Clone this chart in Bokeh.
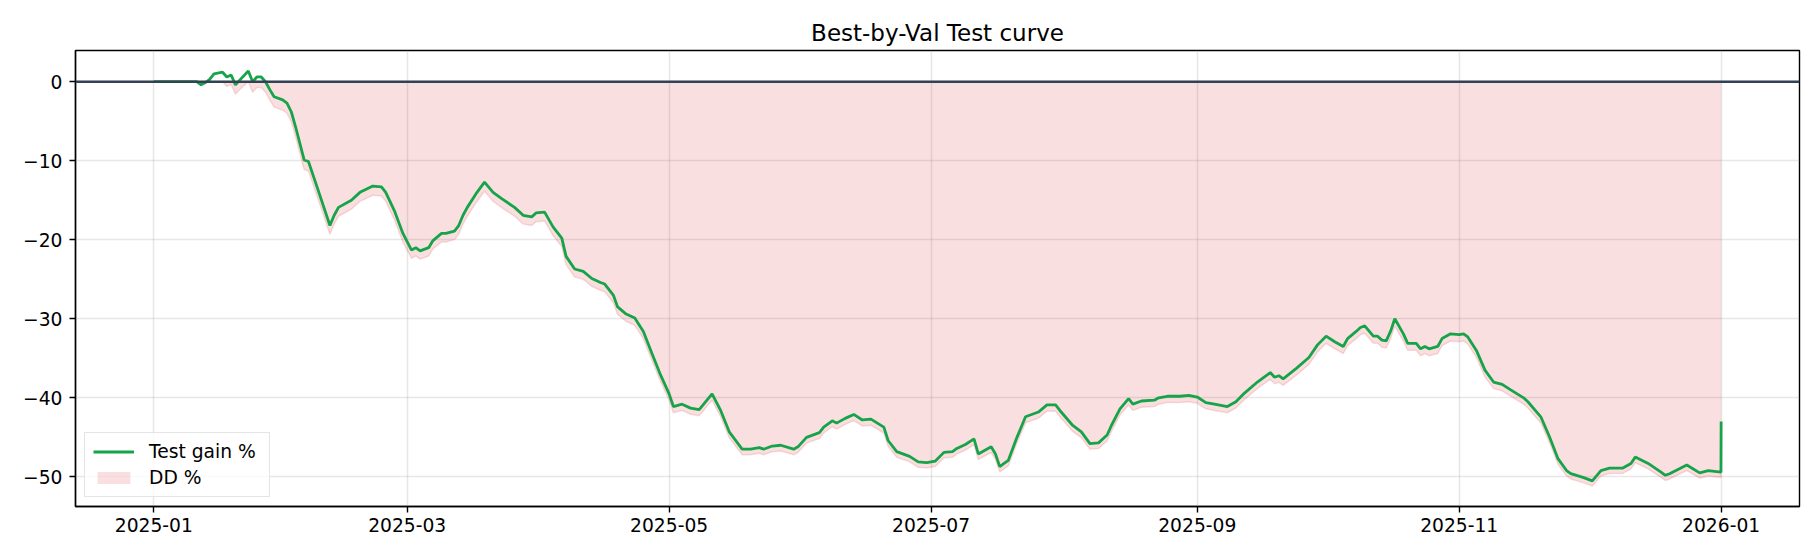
import pandas as pd
from bokeh.plotting import figure
from bokeh.models import (ColumnDataSource, Range1d, FixedTicker, DatetimeTickFormatter,
                          CustomJSTickFormatter, Span, Legend, LegendItem)
from bokeh.embed import file_html
from bokeh.resources import INLINE

# ---------------- data ----------------
dates = [
    "2025-01-01", "2025-01-11", "2025-01-12", "2025-01-13", "2025-01-14", "2025-01-15",
    "2025-01-17", "2025-01-18", "2025-01-19", "2025-01-20", "2025-01-21", "2025-01-23",
    "2025-01-24", "2025-01-25", "2025-01-26", "2025-01-27", "2025-01-28", "2025-01-29",
    "2025-01-31", "2025-02-01", "2025-02-02", "2025-02-03", "2025-02-04", "2025-02-05",
    "2025-02-06", "2025-02-08", "2025-02-11", "2025-02-12", "2025-02-13", "2025-02-16",
    "2025-02-18", "2025-02-21", "2025-02-23", "2025-02-24", "2025-02-26", "2025-02-28",
    "2025-03-02", "2025-03-03", "2025-03-04", "2025-03-06", "2025-03-07", "2025-03-09",
    "2025-03-10", "2025-03-12", "2025-03-13", "2025-03-14", "2025-03-15", "2025-03-17",
    "2025-03-19", "2025-03-21", "2025-03-23", "2025-03-26", "2025-03-28", "2025-03-30",
    "2025-03-31", "2025-04-02", "2025-04-04", "2025-04-06", "2025-04-07", "2025-04-09",
    "2025-04-11", "2025-04-13", "2025-04-15", "2025-04-16", "2025-04-18", "2025-04-19",
    "2025-04-21", "2025-04-23", "2025-04-25", "2025-04-27", "2025-04-29", "2025-05-01",
    "2025-05-02", "2025-05-04", "2025-05-06", "2025-05-08", "2025-05-11", "2025-05-13",
    "2025-05-15", "2025-05-18", "2025-05-20", "2025-05-22", "2025-05-23", "2025-05-25",
    "2025-05-27", "2025-05-30", "2025-05-31", "2025-06-02", "2025-06-05", "2025-06-06",
    "2025-06-08", "2025-06-09", "2025-06-11", "2025-06-13", "2025-06-15", "2025-06-17",
    "2025-06-20", "2025-06-21", "2025-06-23", "2025-06-26", "2025-06-28", "2025-06-30",
    "2025-07-02", "2025-07-04", "2025-07-06", "2025-07-07", "2025-07-09", "2025-07-11",
    "2025-07-12", "2025-07-15", "2025-07-16", "2025-07-17", "2025-07-18", "2025-07-19",
    "2025-07-21", "2025-07-23", "2025-07-26", "2025-07-28", "2025-07-30", "2025-07-31",
    "2025-08-03", "2025-08-05", "2025-08-07", "2025-08-09", "2025-08-11", "2025-08-12",
    "2025-08-14", "2025-08-16", "2025-08-17", "2025-08-19", "2025-08-22", "2025-08-23",
    "2025-08-25", "2025-08-28", "2025-08-30", "2025-09-01", "2025-09-03", "2025-09-05",
    "2025-09-08", "2025-09-10", "2025-09-12", "2025-09-15", "2025-09-18", "2025-09-19",
    "2025-09-20", "2025-09-21", "2025-09-24", "2025-09-27", "2025-09-29", "2025-10-01",
    "2025-10-03", "2025-10-05", "2025-10-06", "2025-10-08", "2025-10-09", "2025-10-10",
    "2025-10-12", "2025-10-13", "2025-10-14", "2025-10-15", "2025-10-16", "2025-10-17",
    "2025-10-19", "2025-10-20", "2025-10-22", "2025-10-23", "2025-10-24", "2025-10-25",
    "2025-10-27", "2025-10-28", "2025-10-30", "2025-11-01", "2025-11-02", "2025-11-03",
    "2025-11-05", "2025-11-07", "2025-11-09", "2025-11-11", "2025-11-13", "2025-11-16",
    "2025-11-17", "2025-11-20", "2025-11-22", "2025-11-24", "2025-11-26", "2025-11-27",
    "2025-11-30", "2025-12-02", "2025-12-04", "2025-12-06", "2025-12-09", "2025-12-11",
    "2025-12-12", "2025-12-15", "2025-12-18", "2025-12-19", "2025-12-20", "2025-12-24",
    "2025-12-27", "2025-12-29", "2025-12-31 23:00", "2026-01-01 00:00",
]

test_gain = [
    0.0, 0.0, -0.4, -0.1, 0.3, 1.0,
    1.2, 0.6, 0.85, -0.4, 0.2, 1.35,
    0.0, 0.6, 0.6, 0.0, -1.0, -1.9,
    -2.3, -2.7, -3.8, -5.7, -7.8, -9.9,
    -10.1, -13.3, -18.2, -16.9, -15.9, -15.0,
    -14.0, -13.2, -13.3, -14.0, -16.3, -19.2,
    -21.3, -21.0, -21.4, -21.0, -20.1, -19.2,
    -19.2, -18.9, -18.2, -16.9, -15.9, -14.2,
    -12.7, -14.0, -14.8, -15.9, -16.9, -17.1,
    -16.6, -16.5, -18.4, -19.8, -22.1, -23.7,
    -24.0, -24.9, -25.4, -25.6, -27.0, -28.5,
    -29.4, -29.9, -31.6, -34.4, -37.1, -39.5,
    -41.1, -40.8, -41.3, -41.5, -39.5, -41.6,
    -44.3, -46.5, -46.5, -46.3, -46.5, -46.1,
    -46.0, -46.5, -46.2, -45.0, -44.4, -43.7,
    -42.9, -43.2, -42.6, -42.1, -42.8, -42.7,
    -43.7, -45.4, -46.8, -47.4, -48.1, -48.2,
    -48.0, -46.9, -46.8, -46.4, -45.9, -45.2,
    -47.1, -46.2, -47.1, -48.7, -48.3, -47.9,
    -45.0, -42.4, -41.8, -40.9, -40.9, -41.6,
    -43.5, -44.3, -45.8, -45.7, -44.7, -43.5,
    -41.4, -40.1, -40.8, -40.4, -40.3, -40.0,
    -39.8, -39.8, -39.7, -39.9, -40.6, -40.8,
    -41.1, -40.5, -39.4, -38.0, -36.8, -37.4,
    -37.2, -37.6, -36.3, -34.9, -33.3, -32.2,
    -32.9, -33.5, -32.5, -31.6, -31.1, -30.9,
    -32.2, -32.2, -32.7, -32.8, -31.6, -30.0,
    -31.9, -33.1, -33.1, -33.8, -33.5, -33.8,
    -33.5, -32.5, -31.9, -32.0, -31.9, -32.3,
    -34.0, -36.5, -38.0, -38.3, -39.0, -40.0,
    -40.5, -42.4, -44.9, -47.7, -49.2, -49.6,
    -50.1, -50.5, -49.2, -48.9, -48.9, -48.3,
    -47.5, -48.3, -49.4, -49.8, -49.6, -48.5,
    -49.5, -49.2, -49.4, -43.0,
]

dd_pct = [
    0.0, 0.0, -0.4, -0.1, 0.0, 0.0,
    0.0, -0.59, -0.35, -1.58, -0.99, 0.0,
    -1.33, -0.74, -0.74, -1.33, -2.32, -3.21,
    -3.60, -3.99, -5.08, -6.96, -9.03, -11.10,
    -11.30, -14.45, -19.29, -18.01, -17.02, -16.13,
    -15.14, -14.36, -14.45, -15.14, -17.42, -20.28,
    -22.35, -22.05, -22.45, -22.05, -21.16, -20.28,
    -20.28, -19.98, -19.29, -18.01, -17.02, -15.34,
    -13.86, -15.14, -15.93, -17.02, -18.01, -18.20,
    -17.71, -17.61, -19.49, -20.87, -23.14, -24.72,
    -25.01, -25.90, -26.39, -26.59, -27.97, -29.45,
    -30.34, -30.83, -32.51, -35.27, -37.94, -40.30,
    -41.89, -41.59, -42.08, -42.28, -40.30, -42.38,
    -45.04, -47.21, -47.21, -47.02, -47.21, -46.82,
    -46.72, -47.21, -46.92, -45.73, -45.14, -44.45,
    -43.66, -43.96, -43.36, -42.87, -43.56, -43.46,
    -44.45, -46.13, -47.51, -48.10, -48.79, -48.89,
    -48.69, -47.61, -47.51, -47.11, -46.62, -45.93,
    -47.80, -46.92, -47.80, -49.38, -48.99, -48.59,
    -45.73, -43.17, -42.57, -41.69, -41.69, -42.38,
    -44.25, -45.04, -46.52, -46.42, -45.44, -44.25,
    -42.18, -40.90, -41.59, -41.19, -41.10, -40.80,
    -40.60, -40.60, -40.50, -40.70, -41.39, -41.59,
    -41.89, -41.29, -40.21, -38.83, -37.64, -38.23,
    -38.04, -38.43, -37.15, -35.77, -34.19, -33.10,
    -33.79, -34.39, -33.40, -32.51, -32.02, -31.82,
    -33.10, -33.10, -33.60, -33.70, -32.51, -30.93,
    -32.81, -33.99, -33.99, -34.68, -34.39, -34.68,
    -34.39, -33.40, -32.81, -32.91, -32.81, -33.20,
    -34.88, -37.35, -38.83, -39.12, -39.81, -40.80,
    -41.29, -43.17, -45.63, -48.40, -49.88, -50.27,
    -50.76, -51.16, -49.88, -49.58, -49.58, -48.99,
    -48.20, -48.99, -50.07, -50.47, -50.27, -49.19,
    -50.17, -49.88, -50.07, -43.76,
]

x_tick_dates = ["2025-01-01", "2025-03-01", "2025-05-01", "2025-07-01",
                "2025-09-01", "2025-11-01", "2026-01-01"]
y_ticks = [-50, -40, -30, -20, -10, 0]

assert len(dates) == len(test_gain) == len(dd_pct)

# ---------------- styling ----------------
FONT = "DejaVu Sans"
GREEN = "#16a34a"
RED = "#d62728"
NAVY = "#334155"
TICK_PX = "18.7px"

x = pd.to_datetime(dates, format="mixed")
src = ColumnDataSource(dict(x=x, gain=test_gain, dd=dd_pct, zero=[0.0] * len(dates)))

x0, x1 = x.min(), x.max()
pad = (x1 - x0) * 0.05

p = figure(
    width=1804, height=544,
    x_axis_type="datetime",
    x_range=Range1d(x0 - pad, x1 + pad),
    y_range=Range1d(-53.75, 3.95),
    output_backend="svg", toolbar_location=None,
    min_border_left=75, min_border_right=5, min_border_top=50, min_border_bottom=38,
    background_fill_color="white", border_fill_color="white",
)

p.title.text = "Best-by-Val Test curve"
p.title.align = "center"
p.title.text_font = FONT
p.title.text_font_size = "23px"
p.title.text_font_style = "normal"
p.title.text_color = "black"
p.title.standoff = 9

dd_area = p.varea(x="x", y1="zero", y2="dd", source=src, fill_color=RED, fill_alpha=0.15)
p.line(x="x", y="dd", source=src, line_color=RED, line_alpha=0.15, line_width=1.5)
gain_line = p.line(x="x", y="gain", source=src, line_color=GREEN, line_width=2.8)

p.add_layout(Span(location=0, dimension="width", line_color=NAVY, line_width=2.6))

# axes
x_ticks_ms = [pd.Timestamp(d).value // 10**6 for d in x_tick_dates]
p.xaxis.ticker = FixedTicker(ticks=x_ticks_ms)
p.xaxis.formatter = DatetimeTickFormatter(
    years="%Y-%m", months="%Y-%m", days="%Y-%m", hours="%Y-%m",
    minutes="%Y-%m", seconds="%Y-%m", milliseconds="%Y-%m", microseconds="%Y-%m",
    hourmin="%Y-%m", minsec="%Y-%m")
p.yaxis.ticker = FixedTicker(ticks=y_ticks)
p.yaxis.formatter = CustomJSTickFormatter(
    code="return (tick < 0 ? '\u2212' : '') + Math.abs(tick).toFixed(0);")

for ax in (p.xaxis, p.yaxis):
    ax.axis_line_color = "black"
    ax.axis_line_width = 1.4
    ax.major_tick_line_color = "black"
    ax.major_tick_line_width = 1.4
    ax.major_tick_out = 6
    ax.major_tick_in = 0
    ax.minor_tick_line_color = None
    ax.major_label_text_font = FONT
    ax.major_label_text_font_size = TICK_PX
    ax.major_label_text_color = "black"
p.xaxis.major_label_standoff = 5
p.yaxis.major_label_standoff = 7

p.outline_line_color = "black"
p.outline_line_width = 1.4
p.outline_line_alpha = 1.0

for g in (p.xgrid, p.ygrid):
    g.grid_line_color = "#b0b0b0"
    g.grid_line_alpha = 0.3
    g.grid_line_width = 1.5

legend = Legend(items=[
    LegendItem(label="Test gain %", renderers=[gain_line]),
    LegendItem(label="DD %", renderers=[dd_area]),
], location="bottom_left")
legend.margin = 9
legend.padding = 8
legend.spacing = 5
legend.glyph_width = 41
legend.glyph_height = 15
legend.label_standoff = 15
legend.label_width = 112
legend.label_text_font = FONT
legend.label_text_font_size = TICK_PX
legend.label_text_color = "black"
legend.border_line_color = "#cccccc"
legend.border_line_width = 1.2
legend.background_fill_color = "white"
legend.background_fill_alpha = 0.8
p.add_layout(legend)

with open("out.html", "w", encoding="utf-8") as f:
    f.write(file_html(p, INLINE))
